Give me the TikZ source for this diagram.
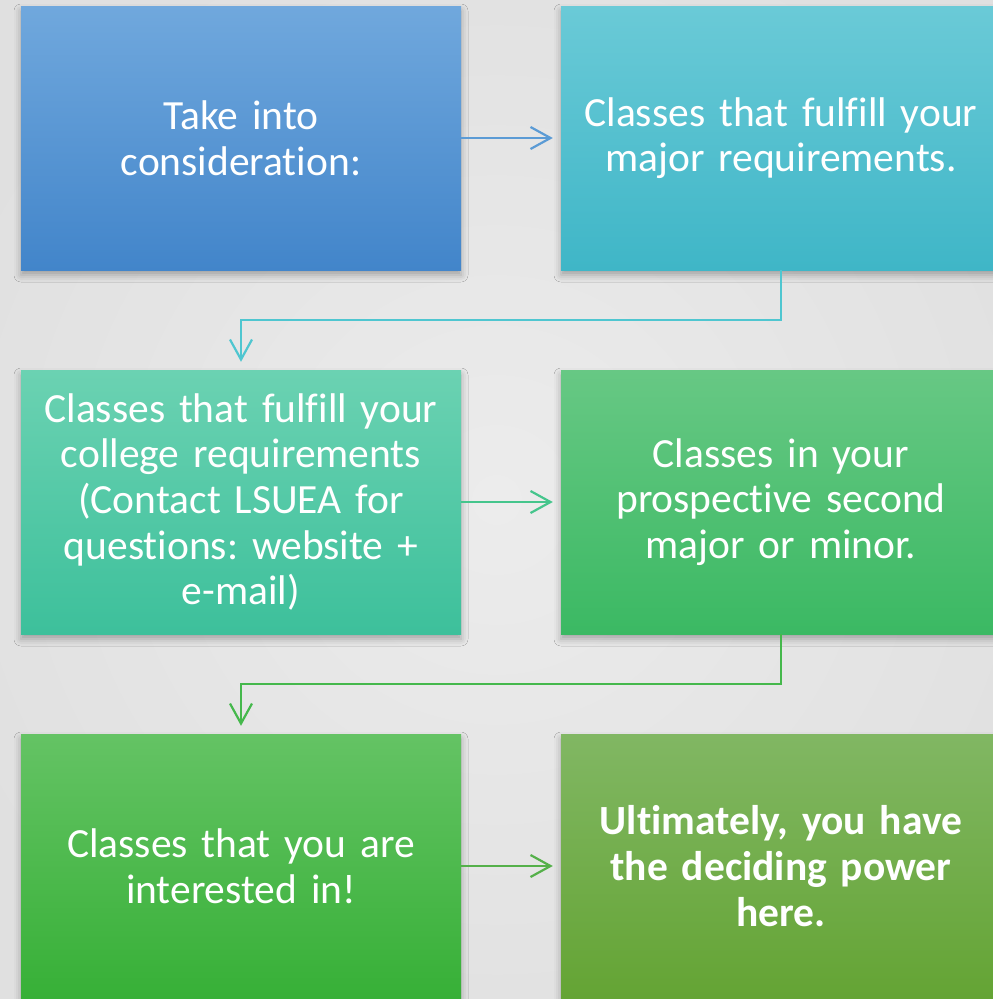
\documentclass[tikz,border=0pt]{standalone}
\usepackage{fontspec}
\setmainfont{Carlito}[Ligatures={NoCommon}, WordSpace={0.8}]
\usetikzlibrary{arrows.meta,shadows.blur}
\definecolor{bgin}{HTML}{ECECEC}
\definecolor{bgout}{HTML}{E0E0E0}
\definecolor{aT}{HTML}{70A8DD}\definecolor{aB}{HTML}{4285CA}
\definecolor{bT}{HTML}{6ACAD7}\definecolor{bB}{HTML}{3FB6C7}
\definecolor{cT}{HTML}{6BD2B2}\definecolor{cB}{HTML}{3DC09B}
\definecolor{dT}{HTML}{67C884}\definecolor{dB}{HTML}{3BB963}
\definecolor{eT}{HTML}{64C364}\definecolor{eB}{HTML}{37B037}
\definecolor{fT}{HTML}{81B763}\definecolor{fB}{HTML}{64A434}
\definecolor{l1}{HTML}{5B9BD5}
\definecolor{l2}{HTML}{4FC6D0}
\definecolor{l3}{HTML}{45C58C}
\definecolor{l4}{HTML}{45B84C}
\definecolor{l5}{HTML}{55B04A}
\tikzset{
  box/.style={rectangle, minimum width=440pt, minimum height=264pt, inner sep=0pt,
    text width=430pt, align=center, text=white,
    font=\fontsize{41.5}{45.7}\selectfont\frenchspacing,
    blur shadow={shadow xshift=0pt, shadow yshift=-5pt, shadow blur radius=7pt, shadow opacity=30}},
  conn/.style={line width=2.2pt, -{Straight Barb[length=20pt,width=22pt,line width=2.2pt]}, shorten >=8pt}
}
\begin{document}
\begin{tikzpicture}[x=1pt,y=-1pt]
\useasboundingbox (0,0) rectangle (993,999);
\clip (0,0) rectangle (993,999);
\fill[inner color=bgin, outer color=bgout] (-100,-100) rectangle (1093,1099);
\node[box, top color=aT, bottom color=aB] (b1) at (241,138) {Take into\\consideration:};
\node[box, top color=bT, bottom color=bB] (b2) at (781,138) {Classes that fulfill your\\major requirements.};
\node[box, top color=cT, bottom color=cB] (b3) at (241,502) {Classes that fulfill your\\college requirements\\(Contact LSUEA for\\questions: website +\\e-mail)};
\node[box, top color=dT, bottom color=dB] (b4) at (781,502) {Classes in your\\prospective second\\major or minor.};
\node[box, top color=eT, bottom color=eB] (b5) at (241,866) {Classes that you are\\interested in!};
\node[box, top color=fT, bottom color=fB, font=\fontsize{41.5}{45.7}\selectfont\bfseries\frenchspacing] (b6) at (781,866) {Ultimately, you have\\the deciding power\\here.};
\draw[conn, l1] (b1.east) -- (b2.west);
\draw[conn, l2] (b2.south) -- ++(0,50) -| (b3.north);
\draw[conn, l3] (b3.east) -- (b4.west);
\draw[conn, l4] (b4.south) -- ++(0,50) -| (b5.north);
\draw[conn, l5] (b5.east) -- (b6.west);
\end{tikzpicture}
\end{document}
